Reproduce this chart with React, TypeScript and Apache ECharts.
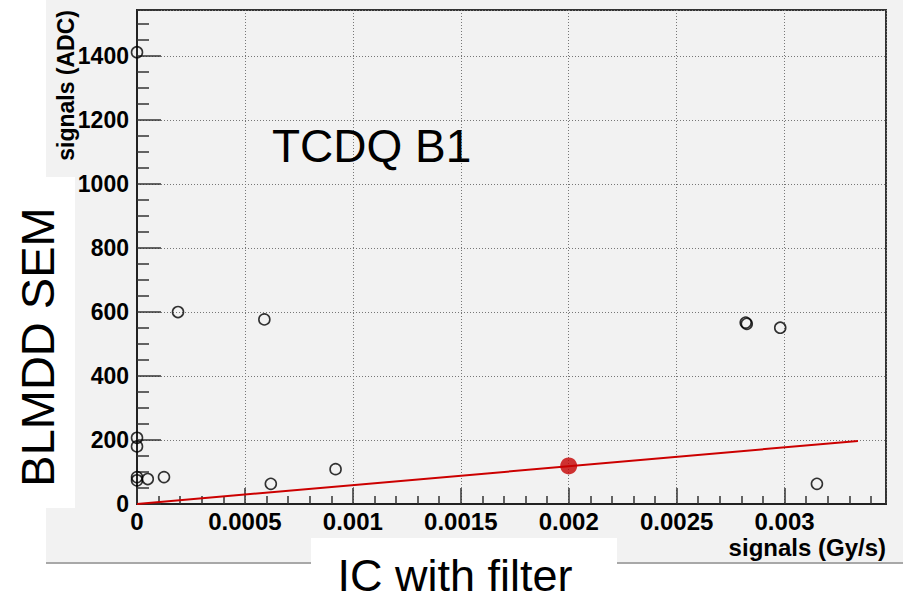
import React, { useEffect, useRef } from "react";
import * as echarts from "echarts";

// IC with filter (Gy/s) vs BLMDD SEM (ADC)
const icSignal = [0, 0, 0, 0, 0, 0.00005, 0.000125, 0.00019, 0.00059, 0.00062, 0.00092, 0.00282, 0.002825, 0.00298, 0.00315];
const semSignal = [1412, 207, 180, 84, 74, 78, 84, 600, 577, 63, 109, 567, 563, 551, 63];

// highlighted point
const refX = [0.002];
const refY = [119];

// fitted line
const fitX = [0, 0.00334];
const fitY = [0, 197];

const xTitle = "signals (Gy/s)";
const yTitle = "signals (ADC)";
const plotLabel = "TCDQ B1";
const leftLabel = "BLMDD SEM";
const bottomLabel = "IC with filter";

const FONT = "'Liberation Sans', Arial, Helvetica, sans-serif";

export default function App() {
  const ref = useRef<HTMLDivElement>(null);

  useEffect(() => {
    if (!ref.current) return;
    const chart = echarts.init(ref.current, undefined, { renderer: "svg" });

    const isMultiple = (v: number, step: number) =>
      Math.abs(v / step - Math.round(v / step)) < 1e-6;

    const option: any = {
      animation: false,
      backgroundColor: "#ffffff",
      grid: {
        left: 137,
        top: 10,
        right: 17,
        bottom: 96,
        show: true,
        backgroundColor: "#f2f2f2",
        borderColor: "#333333",
        borderWidth: 2,
      },
      xAxis: {
        type: "value",
        min: 0,
        max: 0.00347,
        interval: 0.0005,
        axisLine: { show: true, onZero: false, lineStyle: { color: "#222", width: 2 } },
        axisTick: { show: true, inside: true, length: 16, lineStyle: { color: "#333", width: 1.5 } },
        minorTick: { show: true, splitNumber: 5, length: 8, lineStyle: { color: "#333", width: 1.5 } },
        splitLine: { show: true, lineStyle: { color: "#777", width: 1, type: [1, 2] } },
        axisLabel: {
          showMaxLabel: false,
          margin: 5,
          color: "#000",
          fontFamily: FONT,
          fontWeight: "bold",
          fontSize: 24,
          lineHeight: 24,
          formatter: (v: number) =>
            isMultiple(v, 0.0005) ? String(parseFloat(v.toFixed(4))) : "",
        },
      },
      yAxis: {
        type: "value",
        min: 0,
        max: 1544,
        interval: 200,
        axisLine: { show: true, onZero: false, lineStyle: { color: "#222", width: 2 } },
        axisTick: { show: true, inside: true, length: 24, lineStyle: { color: "#333", width: 1.5 } },
        minorTick: { show: true, splitNumber: 4, length: 12, lineStyle: { color: "#333", width: 1.5 } },
        splitLine: { show: true, lineStyle: { color: "#777", width: 1, type: [1, 2] } },
        axisLabel: {
          showMaxLabel: false,
          margin: 8,
          color: "#000",
          fontFamily: FONT,
          fontWeight: "bold",
          fontSize: 23,
          formatter: (v: number) => (isMultiple(v, 200) ? String(Math.round(v)) : ""),
        },
      },
      series: [
        {
          type: "line",
          data: fitX.map((x, i) => [x, fitY[i]]),
          showSymbol: false,
          symbol: "none",
          lineStyle: { color: "#cc0000", width: 2 },
          z: 3,
        },
        {
          type: "scatter",
          data: icSignal.map((x, i) => [x, semSignal[i]]),
          symbol: "circle",
          symbolSize: 11,
          itemStyle: { color: "rgba(0,0,0,0)", borderColor: "#000", borderWidth: 1.6 },
          z: 4,
        },
        {
          type: "scatter",
          data: refX.map((x, i) => [x, refY[i]]),
          symbol: "circle",
          symbolSize: 17,
          itemStyle: { color: "#c40000" },
          z: 5,
        },
      ],
      graphic: [
        {
          type: "rect",
          z: -10,
          shape: { x: 46, y: 0, width: 857, height: 563 },
          style: { fill: "#f2f2f2" },
        },
        {
          type: "rect",
          z: -9,
          shape: { x: 46, y: 562, width: 857, height: 2 },
          style: { fill: "#a8a8a8" },
        },
        {
          type: "rect",
          z: 50,
          shape: { x: 0, y: 177, width: 75, height: 331 },
          style: { fill: "#ffffff" },
        },
        {
          type: "rect",
          z: 50,
          shape: { x: 311, y: 538, width: 306, height: 62 },
          style: { fill: "#ffffff" },
        },
        {
          type: "text",
          z: 60,
          x: 66,
          y: 10,
          rotation: Math.PI / 2,
          style: {
            text: yTitle,
            fill: "#000",
            font: `bold 23px ${FONT}`,
            textAlign: "right",
            textVerticalAlign: "middle",
          },
        },
        {
          type: "text",
          z: 60,
          x: 886,
          y: 547,
          style: {
            text: xTitle,
            fill: "#000",
            font: `bold 24px ${FONT}`,
            textAlign: "right",
            textVerticalAlign: "middle",
          },
        },
        {
          type: "text",
          z: 60,
          x: 272,
          y: 146,
          style: {
            text: plotLabel,
            fill: "#000",
            font: `46px ${FONT}`,
            textAlign: "left",
            textVerticalAlign: "middle",
          },
        },
        {
          type: "text",
          z: 60,
          x: 37,
          y: 347,
          rotation: Math.PI / 2,
          style: {
            text: leftLabel,
            fill: "#000",
            font: `47px ${FONT}`,
            textAlign: "center",
            textVerticalAlign: "middle",
          },
        },
        {
          type: "text",
          z: 60,
          x: 455,
          y: 575,
          style: {
            text: bottomLabel,
            fill: "#000",
            font: `45px ${FONT}`,
            textAlign: "center",
            textVerticalAlign: "middle",
          },
        },
      ],
    };

    chart.setOption(option);
    return () => chart.dispose();
  }, []);

  return (
    <div
      ref={ref}
      style={{ position: "absolute", left: 0, top: 0, width: 903, height: 600, background: "#fff" }}
    />
  );
}
